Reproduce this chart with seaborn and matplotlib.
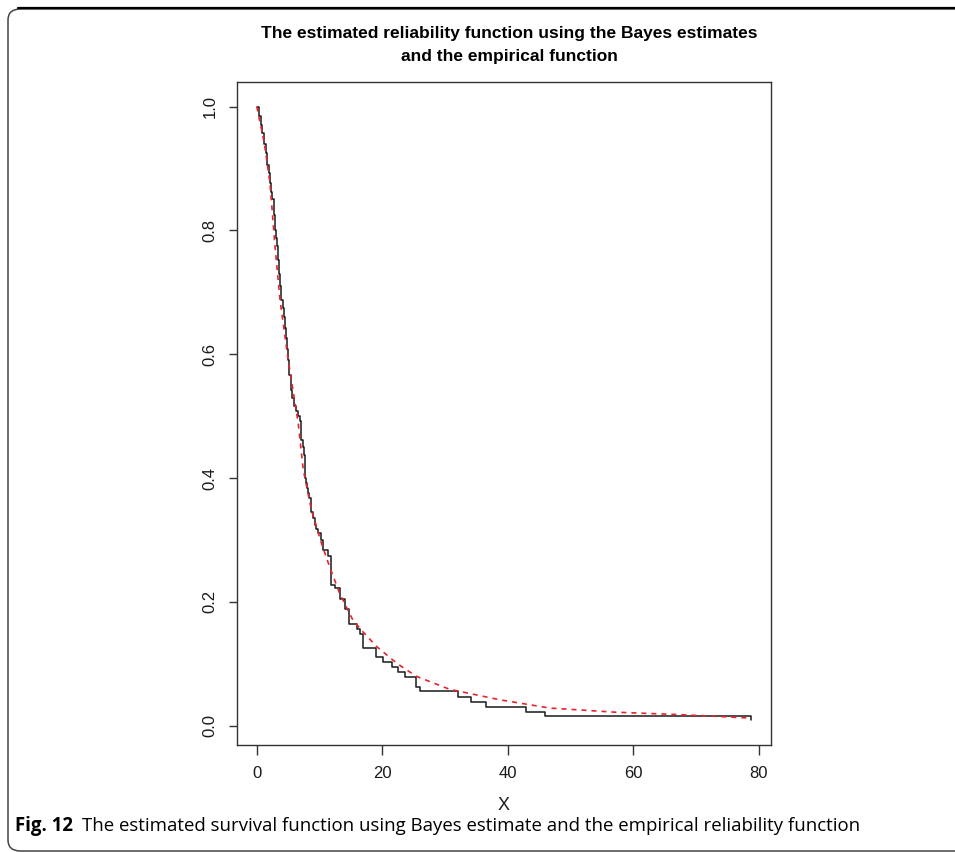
import matplotlib
matplotlib.use("Agg")
import matplotlib.pyplot as plt
import pandas as pd
import seaborn as sns
from matplotlib.patches import FancyBboxPatch

# ---- data ----
emp_x = [0.0, 0.3, 0.64, 0.9, 1.2, 1.45, 1.7, 1.9, 2.1, 2.3, 2.5, 2.7, 2.9, 3.05,
         3.2, 3.4, 3.6, 3.75, 3.9, 4.1, 4.3, 4.45, 4.6, 4.8, 5.0, 5.2, 5.4, 5.65,
         5.9, 6.3, 6.6, 6.85, 7.1, 7.3, 7.5, 7.75, 7.9, 8.0, 8.2, 8.4, 8.6, 8.9,
         9.2, 9.5, 9.8, 10.2, 10.6, 11.4, 11.9, 12.4, 13.2, 14.1, 14.7, 15.9,
         16.5, 16.9, 19.0, 20.1, 21.6, 22.5, 23.6, 25.4, 26.0, 32.1, 34.2, 36.6,
         42.9, 46.0, 78.8]
emp_y = [1.0, 0.985, 0.971, 0.958, 0.94, 0.925, 0.906, 0.892, 0.877, 0.862,
         0.85, 0.825, 0.80, 0.787, 0.774, 0.752, 0.73, 0.71, 0.688, 0.675, 0.66,
         0.643, 0.626, 0.608, 0.59, 0.567, 0.543, 0.53, 0.516, 0.508, 0.50,
         0.492, 0.462, 0.45, 0.438, 0.400, 0.392, 0.384, 0.376, 0.368, 0.346,
         0.336, 0.325, 0.318, 0.311, 0.300, 0.284, 0.274, 0.228, 0.222, 0.204,
         0.188, 0.165, 0.157, 0.149, 0.126, 0.111, 0.103, 0.095, 0.087, 0.079,
         0.0625, 0.0555, 0.047, 0.039, 0.031, 0.023, 0.016, 0.0086]

bayes_x = [0.0, 1.2, 2.1, 2.9, 3.7, 5.0, 6.6, 7.4, 8.7, 10.3, 11.6, 13.2, 15.3,
           16.9, 19.1, 22.3, 25.4, 30.7, 38.7, 46.7, 57.0, 67.9, 78.8]
bayes_y = [1.0, 0.941, 0.877, 0.775, 0.688, 0.591, 0.489, 0.414, 0.349, 0.295,
           0.257, 0.214, 0.171, 0.152, 0.128, 0.101, 0.080, 0.059, 0.042,
           0.0286, 0.022, 0.0178, 0.0124]

x_ticks = [0, 20, 40, 60, 80]
y_ticks = [0.0, 0.2, 0.4, 0.6, 0.8, 1.0]
y_tick_labels = ["0.0", "0.2", "0.4", "0.6", "0.8", "1.0"]

title_text = "The estimated reliability function using the Bayes estimates\nand the empirical function"
x_label = "X"
cap_bold = "Fig. 12"
cap_text = "The estimated survival function using Bayes estimate and the empirical reliability function"

# ---- figure ----
sns.set_style("ticks")
plt.rcParams['font.family'] = ['Liberation Sans', 'DejaVu Sans']

W, H = 955, 852
fig = plt.figure(figsize=(W / 100, H / 100), dpi=100)
fig.patch.set_facecolor("white")

# outer frame with rounded left corners
frame = FancyBboxPatch((8 / W, 1 / H), 1.2, (H - 9 - 1) / H,
                       boxstyle="round,pad=0,rounding_size=0.013",
                       transform=fig.transFigure, fill=False,
                       edgecolor="#444444", linewidth=1.1, clip_on=False)
fig.add_artist(frame)
fig.add_artist(plt.Line2D([18 / W, 1.0], [1 - 8 / H, 1 - 8 / H],
                          transform=fig.transFigure, color="black", lw=1.6))

ax = fig.add_axes([237 / W, 1 - 745 / H, (771 - 237) / W, (745 - 82) / H])

emp = pd.DataFrame({"x": emp_x, "y": emp_y})
bay = pd.DataFrame({"x": bayes_x, "y": bayes_y})
sns.lineplot(data=emp, x="x", y="y", ax=ax, drawstyle="steps-post",
             color="#1a1a1a", lw=1.1, estimator=None, sort=False)
sns.lineplot(data=bay, x="x", y="y", ax=ax, color="#e5242c", lw=1.2,
             linestyle=(0, (3, 3)), estimator=None, sort=False)

xr = max(emp_x) - min(emp_x)
ax.set_xlim(min(emp_x) - 0.04 * xr, max(emp_x) + 0.04 * xr)
yr = max(emp_y) - min(emp_y)
ax.set_ylim(min(emp_y) - 0.04 * yr, max(emp_y) + 0.04 * yr)

ax.set_xticks(x_ticks)
ax.set_xticklabels([str(t) for t in x_ticks])
ax.set_yticks(y_ticks)
ax.set_yticklabels(y_tick_labels, rotation=90, va="center")
ax.tick_params(axis="x", direction="out", length=7, width=1, color="#333333",
               labelsize=12, pad=8, labelcolor="#1a1a1a")
ax.tick_params(axis="y", direction="out", length=6, width=1, color="#333333",
               labelsize=12, pad=8, labelcolor="#1a1a1a")
for s in ax.spines.values():
    s.set_visible(True)
    s.set_color("#333333")
    s.set_linewidth(1.0)
ax.set_xlabel(x_label, fontsize=13, labelpad=12, color="#1a1a1a")
ax.set_ylabel("")

fig.text(509 / W, 1 - 45 / H, title_text, ha="center", va="center",
         fontsize=12.5, fontweight="bold", linespacing=1.6, color="black")

renderer = fig.canvas.get_renderer()
tb = fig.text(15 / W, 1 - 826 / H, cap_bold, ha="left", va="center", color="black",
              fontsize=13.4, fontweight="bold", family=["Open Sans", "DejaVu Sans"])
bb = tb.get_window_extent(renderer=renderer)
fig.text((bb.x1 + 9) / W, 1 - 826 / H, cap_text, ha="left", va="center",
         color="black", fontsize=13.4, family=["Open Sans", "DejaVu Sans"])

fig.savefig("out.png", dpi=100)
